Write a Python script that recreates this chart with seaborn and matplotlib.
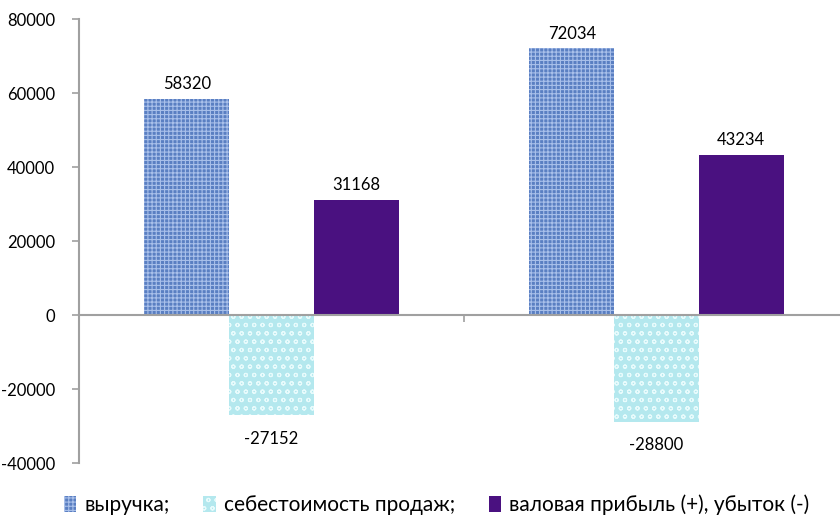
import pandas as pd
import matplotlib.pyplot as plt
import seaborn as sns

# =============================================================================
# Data
# =============================================================================

periods = ['Период 1', 'Период 2']
series = ['выручка;', 'себестоимость продаж;', 'валовая прибыль (+), убыток (-)']
revenue = [58320, 72034]
cost = [-27152, -28800]
gross = [31168, 43234]
y_ticks = [-40000, -20000, 0, 20000, 40000, 60000, 80000]

df = pd.DataFrame({
    'period': periods * 3,
    'series': [series[0]] * 2 + [series[1]] * 2 + [series[2]] * 2,
    'value': revenue + cost + gross,
})

palette = {series[0]: '#5a7fc2', series[1]: '#b4e8ee', series[2]: '#4a1180'}
hatches = ['++++', 'oo', '']
hatch_cols = ['#a9c0ea', '#e8fbfc', '#5b2296']
label_pad = [5, 11, 5]

# =============================================================================
# Plot
# =============================================================================

sns.set_style('white')
plt.rcParams['font.family'] = ['Lato', 'DejaVu Sans']
plt.rcParams['hatch.linewidth'] = 0.8
plt.rcParams['text.color'] = 'black'

fig = plt.figure(figsize=(8.4, 5.17), dpi=100)
ax = fig.add_axes([79 / 840, 54 / 517, 770 / 840, 444 / 517])

sns.barplot(data=df, x='period', y='value', hue='series', palette=palette,
            width=0.66, saturation=1, legend=False, ax=ax)

for cont, h, hc, pad in zip(ax.containers, hatches, hatch_cols, label_pad):
    for p in cont.patches:
        p.set_hatch(h)
        p.set_edgecolor(hc)
        p.set_linewidth(0)
    ax.bar_label(cont, fmt='%d', padding=pad, fontsize=12, color='black')

ax.set_xlim(-0.5, 1.5)
ax.set_ylim(-40000, 80000)
ax.set_yticks(y_ticks)
ax.set_yticklabels([str(t) for t in y_ticks], fontsize=12, color='black')
ax.set_xticks([])
ax.set_xticks([0.5], minor=True)
ax.set_xlabel('')
ax.set_ylabel('')

for s in ['top', 'right']:
    ax.spines[s].set_visible(False)
ax.spines['bottom'].set_position(('data', 0))
for s in ['left', 'bottom']:
    ax.spines[s].set_color('#a0a0a0')
    ax.spines[s].set_linewidth(1.5)
ax.tick_params(axis='y', which='major', direction='out', length=5,
               color='#a0a0a0', width=1.2, left=True, pad=12)
ax.tick_params(axis='x', which='minor', direction='out', length=5,
               color='#a0a0a0', width=1.2, bottom=True)

handles = [c.patches[0] for c in ax.containers]
fig.legend(handles, series, loc='center', bbox_to_anchor=(0.52, 12 / 517),
           ncol=3, frameon=False, fontsize=15, handlelength=0.6,
           handleheight=0.8, handletextpad=0.4, columnspacing=1.6,
           borderpad=0, borderaxespad=0)

plt.savefig('out.png', dpi=100)
